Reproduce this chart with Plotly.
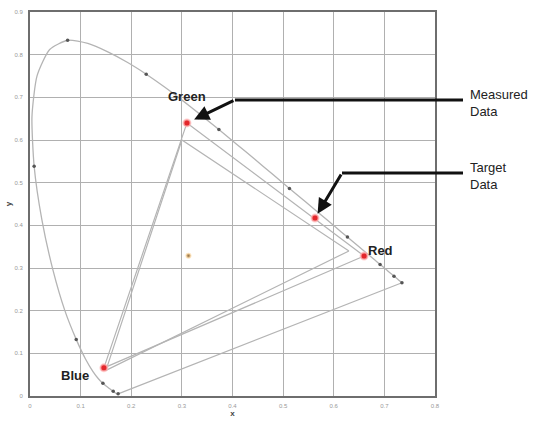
import plotly.graph_objects as go

# CIE 1931 spectral locus (wavelength nm, x, y)
WAVELENGTHS = [380, 390, 400, 410, 420, 430, 440, 445, 450, 455, 460, 465, 470, 475,
               480, 485, 490, 495, 500, 505, 510, 515, 520, 525, 530, 535, 540, 545,
               550, 555, 560, 565, 570, 575, 580, 585, 590, 595, 600, 605, 610, 615,
               620, 625, 630, 635, 640, 650, 660, 680, 700]
LOCUS_X = [0.1741, 0.1738, 0.1733, 0.1726, 0.1714, 0.1689, 0.1644, 0.1611, 0.1566, 0.1510,
           0.1440, 0.1355, 0.1241, 0.1096, 0.0913, 0.0687, 0.0454, 0.0235, 0.0082, 0.0039,
           0.0139, 0.0389, 0.0743, 0.1142, 0.1547, 0.1929, 0.2296, 0.2658, 0.3016, 0.3373,
           0.3731, 0.4087, 0.4441, 0.4788, 0.5125, 0.5448, 0.5752, 0.6029, 0.6270, 0.6482,
           0.6658, 0.6801, 0.6915, 0.7006, 0.7079, 0.7140, 0.7190, 0.7260, 0.7300, 0.7334,
           0.7347]
LOCUS_Y = [0.0050, 0.0049, 0.0048, 0.0048, 0.0051, 0.0069, 0.0109, 0.0138, 0.0177, 0.0227,
           0.0297, 0.0399, 0.0578, 0.0868, 0.1327, 0.2007, 0.2950, 0.4127, 0.5384, 0.6548,
           0.7502, 0.8120, 0.8338, 0.8262, 0.8059, 0.7816, 0.7543, 0.7243, 0.6923, 0.6589,
           0.6245, 0.5896, 0.5547, 0.5202, 0.4866, 0.4544, 0.4242, 0.3965, 0.3725, 0.3514,
           0.3340, 0.3197, 0.3083, 0.2993, 0.2920, 0.2859, 0.2809, 0.2740, 0.2700, 0.2666,
           0.2653]
MARKED_NM = [380, 440, 460, 480, 500, 520, 540, 560, 580, 600, 620, 640, 700]

# primaries: red, green, blue
PRIMARIES = ["Red", "Green", "Blue"]
TARGET_X = [0.63, 0.30, 0.15]
TARGET_Y = [0.34, 0.60, 0.06]
MEASURED_X = [0.660, 0.310, 0.146]
MEASURED_Y = [0.328, 0.640, 0.066]

# extra measured point and white point
POINT_X, POINT_Y = 0.563, 0.417
WHITE_X, WHITE_Y = 0.313, 0.329

TICKS_X = [0, 0.1, 0.2, 0.3, 0.4, 0.5, 0.6, 0.7, 0.8]
TICKS_Y = [0, 0.1, 0.2, 0.3, 0.4, 0.5, 0.6, 0.7, 0.8, 0.9]

W, H = 534, 422
ML, MR, MT, MB = 30, 99, 12, 26
PW, PH = W - ML - MR, H - MT - MB
XMAX, YMAX = 0.8, 0.9

LINE = "#b4b4b4"

fig = go.Figure()

fig.add_trace(go.Scatter(x=LOCUS_X, y=LOCUS_Y, mode="lines", line=dict(color=LINE, width=1.3, shape="spline", smoothing=0.6)))
fig.add_trace(go.Scatter(x=[LOCUS_X[0], LOCUS_X[-1]], y=[LOCUS_Y[0], LOCUS_Y[-1]], mode="lines", line=dict(color=LINE, width=1.2)))

mx = [x for w, x in zip(WAVELENGTHS, LOCUS_X) if w in MARKED_NM]
my = [y for w, y in zip(WAVELENGTHS, LOCUS_Y) if w in MARKED_NM]
fig.add_trace(go.Scatter(x=mx, y=my, mode="markers", marker=dict(color="#555", size=3.5)))

for xs, ys in ((TARGET_X, TARGET_Y), (MEASURED_X, MEASURED_Y)):
    fig.add_trace(go.Scatter(x=xs + xs[:1], y=ys + ys[:1], mode="lines", line=dict(color=LINE, width=1.2)))

fig.add_trace(go.Scatter(x=[WHITE_X], y=[WHITE_Y], mode="markers",
                         marker=dict(color="#9a7a50", size=4, line=dict(color="rgba(250,210,150,0.6)", width=2))))
fig.add_trace(go.Scatter(x=MEASURED_X + [POINT_X], y=MEASURED_Y + [POINT_Y], mode="markers",
                         marker=dict(color="#e3262b", size=7, line=dict(color="rgba(255,190,190,0.7)", width=2))))

label_pos = {"Red": (0.692, 0.342), "Green": (0.31, 0.703), "Blue": (0.089, 0.049)}
for name in PRIMARIES:
    lx, ly = label_pos[name]
    fig.add_annotation(x=lx, y=ly, text="<b>%s</b>" % name, showarrow=False,
                       font=dict(family="Liberation Sans, Arial", size=13, color="#222"))


def to_paper(x, y):
    return x / XMAX, y / YMAX


# callout arrows: head near a point, bend (pixel offset), then horizontal to the text
callouts = [
    ("Measured<br>Data", MEASURED_X[1], MEASURED_Y[1], 48, -23, 8),
    ("Target<br>Data", POINT_X, POINT_Y, 27, -45, 5),
]
for text, hx, hy, ax, ay, stand in callouts:
    px, py = to_paper(hx, hy)
    bx = px + ax / PW
    by = py - ay / PH
    ex = (463 - ML) / PW
    fig.add_annotation(x=hx, y=hy, ax=ax, ay=ay, showarrow=True, arrowhead=2, arrowsize=1,
                       arrowwidth=3, arrowcolor="#111", standoff=stand, text="")
    fig.add_shape(type="line", xref="paper", yref="paper", x0=bx, y0=by, x1=ex, y1=by,
                  line=dict(color="#111", width=3))
    fig.add_annotation(xref="paper", yref="paper", x=(468 - ML) / PW, y=by - 3 / PH,
                       xanchor="left", yanchor="middle", align="left", showarrow=False, text=text,
                       font=dict(family="Liberation Sans, Arial", size=13, color="#222"))

axis_common = dict(showgrid=True, gridcolor="#b0b0b0", gridwidth=1.2, zeroline=False,
                   showline=True, linecolor="#6e6e6e", linewidth=2, mirror=True,
                   ticks="outside", tickcolor="rgba(0,0,0,0)", automargin=False,
                   tickfont=dict(family="Liberation Sans, Arial", size=6, color="#999"))
fig.update_xaxes(range=[0, XMAX], tickvals=TICKS_X, ticktext=[("%g" % t) for t in TICKS_X], ticklen=3,
                 title=dict(text="<b>x</b>", font=dict(size=8, color="#444"), standoff=2), **axis_common)
fig.update_yaxes(range=[0, YMAX], tickvals=TICKS_Y, ticktext=[("%g" % t) for t in TICKS_Y], ticklen=4,
                 title=dict(text="<b>y</b>", font=dict(size=8, color="#444"), standoff=2), **axis_common)

fig.update_layout(width=W, height=H, margin=dict(l=ML, r=MR, t=MT, b=MB, autoexpand=False),
                  showlegend=False, plot_bgcolor="white", paper_bgcolor="white",
                  font=dict(family="Liberation Sans, Arial"))

# the page's default body margin would shift the figure by 8px
fig.write_html("out.html", config={"displayModeBar": False},
               post_script="document.body.style.margin='0';")
